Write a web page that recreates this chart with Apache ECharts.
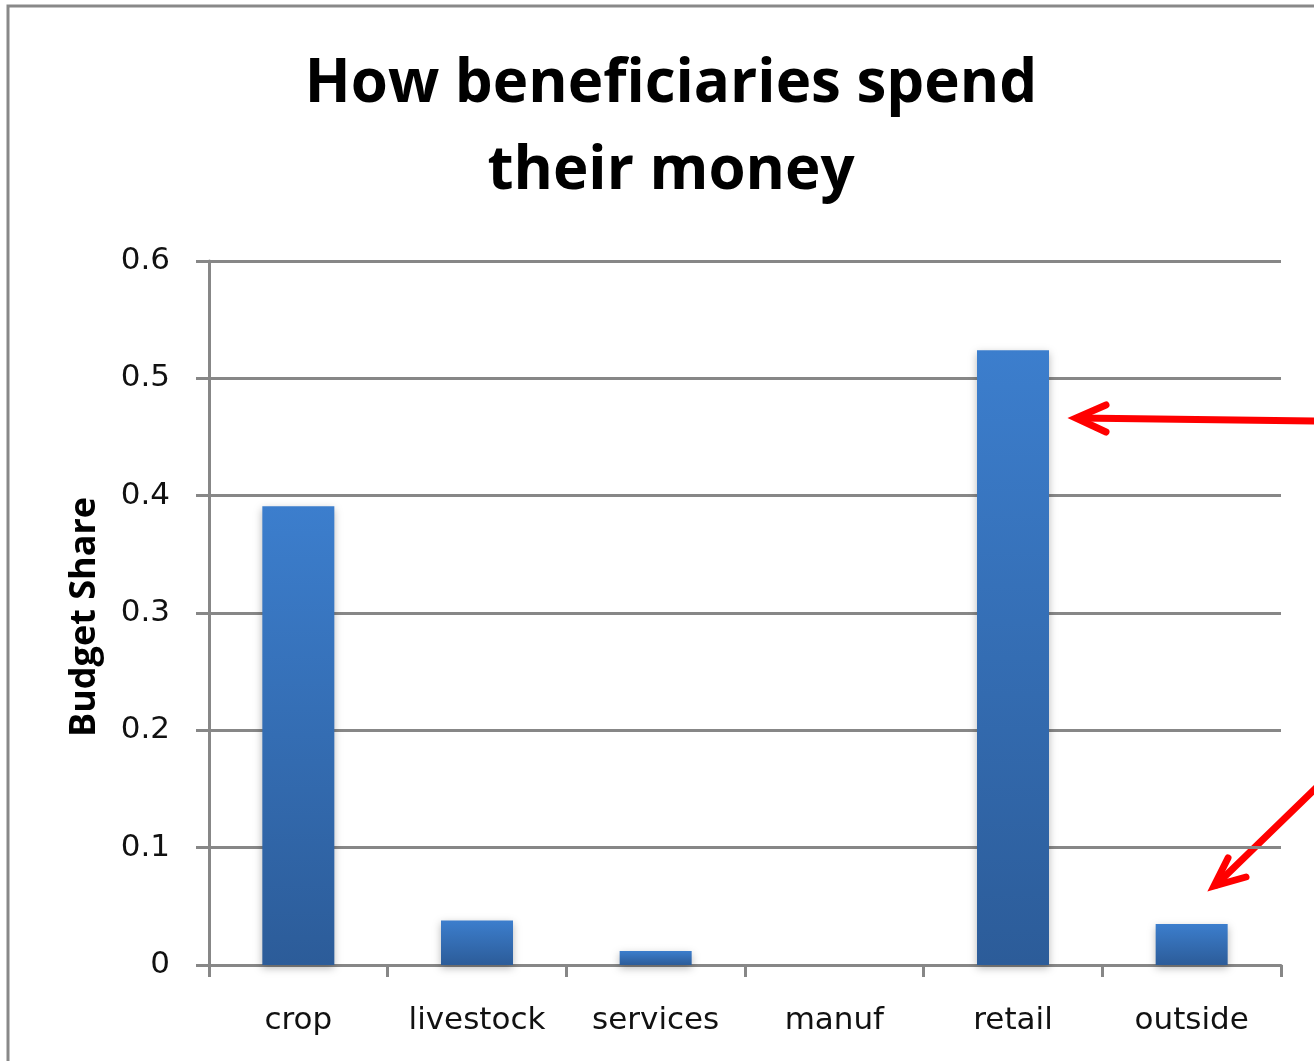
<!DOCTYPE html>
<html>
<head>
<meta charset="utf-8">
<script src="https://cdn.jsdelivr.net/npm/echarts@6/dist/echarts.min.js"></script>
<style>
  html, body { margin: 0; padding: 0; background: #fff; }
  #chart { width: 1314px; height: 1061px; }
</style>
</head>
<body>
<div id="chart"></div>
<script>
// Spending categories and the share of budget going to each
const categories = ['crop', 'livestock', 'services', 'manuf', 'retail', 'outside'];
const budgetShare = [0.391, 0.038, 0.012, 0.0, 0.524, 0.035];
const titleLines = ['How beneficiaries spend', 'their money'];
const yAxisName = 'Budget Share';

const chart = echarts.init(document.getElementById('chart'));

const axisGrey = '#878787';
const labelFont = 'DejaVu Sans';
const barGradient = new echarts.graphic.LinearGradient(0, 0, 0, 1, [
  { offset: 0, color: '#3c7ecd' },
  { offset: 1, color: '#2c5c99' }
]);

chart.setOption({
  backgroundColor: '#ffffff',
  animation: false,
  title: {
    text: titleLines.join('\n'),
    left: 666,
    textAlign: 'center',
    top: 36,
    textStyle: {
      fontFamily: 'Open Sans',
      fontWeight: 'bold',
      fontSize: 60,
      lineHeight: 87,
      color: '#000'
    }
  },
  grid: { left: 209, right: 33, top: 261, bottom: 96 },
  xAxis: {
    type: 'category',
    data: categories,
    boundaryGap: true,
    axisLine: { lineStyle: { color: axisGrey, width: 3 } },
    axisTick: { show: true, length: 12, alignWithLabel: false, lineStyle: { color: axisGrey, width: 3 } },
    axisLabel: {
      margin: 40,
      fontFamily: labelFont,
      fontSize: 31,
      color: '#111'
    }
  },
  yAxis: {
    type: 'value',
    min: 0,
    max: 0.6,
    interval: 0.1,
    name: yAxisName,
    nameLocation: 'middle',
    nameGap: 106,
    nameTextStyle: {
      fontFamily: 'Open Sans',
      fontWeight: 'bold',
      fontSize: 36,
      color: '#000',
      padding: [0, 8, 0, 0]
    },
    axisLine: { show: true, lineStyle: { color: axisGrey, width: 3 } },
    axisTick: { show: true, length: 13, lineStyle: { color: axisGrey, width: 3 } },
    axisLabel: {
      margin: 39,
      fontFamily: labelFont,
      fontSize: 31,
      color: '#111'
    },
    splitLine: { lineStyle: { color: axisGrey, width: 3 } }
  },
  series: [{
    type: 'bar',
    data: budgetShare,
    barWidth: 72,
    itemStyle: {
      color: barGradient,
      shadowColor: 'rgba(0,0,0,0.28)',
      shadowBlur: 8,
      shadowOffsetY: 3
    }
  }],
  graphic: [
    // outer chart frame
    {
      type: 'rect',
      shape: { x: 8, y: 6, width: 1340, height: 1100 },
      style: { fill: 'none', stroke: '#898989', lineWidth: 3 },
      silent: true
    },
    // arrow pointing at the retail bar
    {
      type: 'polyline',
      shape: { points: [[1316, 421], [1078, 418]] },
      style: { stroke: '#ff0000', lineWidth: 7, fill: 'none', lineCap: 'round' }
    },
    {
      type: 'polyline',
      shape: { points: [[1106, 405], [1076, 418], [1106, 432]] },
      style: { stroke: '#ff0000', lineWidth: 7, fill: 'none', lineCap: 'round', lineJoin: 'miter' }
    },
    // arrow pointing at the outside bar
    {
      type: 'polyline',
      shape: { points: [[1318, 786], [1216, 885]] },
      style: { stroke: '#ff0000', lineWidth: 7, fill: 'none', lineCap: 'round' }
    },
    {
      type: 'polyline',
      shape: { points: [[1228, 858], [1214, 886], [1246, 877]] },
      style: { stroke: '#ff0000', lineWidth: 7, fill: 'none', lineCap: 'round', lineJoin: 'miter' }
    }
  ]
});
</script>
</body>
</html>
